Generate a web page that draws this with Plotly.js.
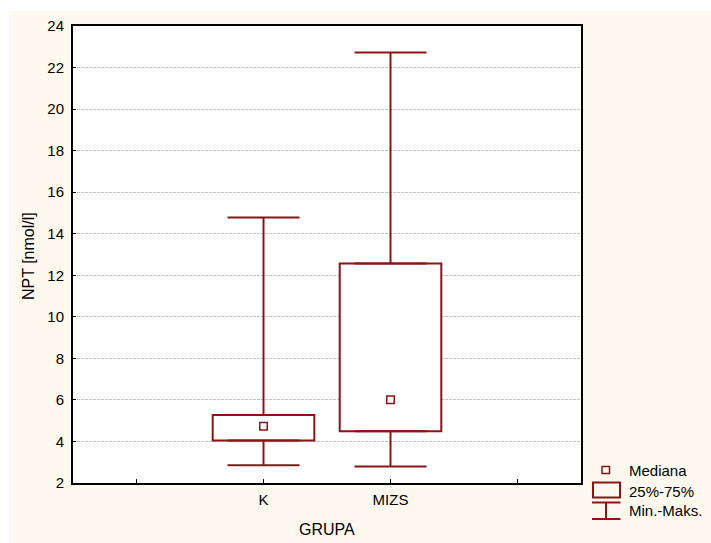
<!DOCTYPE html>
<html>
<head>
<meta charset="utf-8">
<script src="https://cdn.plot.ly/plotly-3.0.1.min.js"></script>
<style>html,body{margin:0;padding:0;background:#fff;}#chart{width:711px;height:543px;}</style>
</head>
<body>
<div id="chart"></div>
<script>
// ---- data ----
var groups = ['K', 'MIZS'];
var groupPos = [0, 1];
var minVals = [2.86, 2.80];
var q1Vals = [4.05, 4.49];
var medianVals = [4.73, 6.01];
var q3Vals = [5.27, 12.57];
var maxVals = [14.78, 22.73];
var xTickVals = [-1, 0, 1, 2];
var xTickText = ['', 'K', 'MIZS', ''];
var legendLabels = ['Mediana', '25%-75%', 'Min.-Maks.'];

// ---- styling ----
var RED = '#8B1414';
var FONT = 'Liberation Sans, Arial, sans-serif';
var W = 711, H = 543;
var M = {l: 73, r: 130, t: 26, b: 60};
var PW = W - M.l - M.r, PH = H - M.t - M.b;
function px(x) { return (x - M.l) / PW; }
function py(y) { return (H - M.b - y) / PH; }

var boxH = q3Vals.map(function (v, i) { return v - q1Vals[i]; });
var zeros = groupPos.map(function () { return 0; });
var lowLen = q1Vals.map(function (v, i) { return v - minVals[i]; });
var upLen = maxVals.map(function (v, i) { return v - q3Vals[i]; });

var traces = [
  {type: 'bar', x: groupPos, y: boxH, base: q1Vals, width: 0.8,
   marker: {color: '#ffffff', line: {color: RED, width: 2}}, hoverinfo: 'skip', showlegend: false},
  {type: 'scatter', mode: 'markers', x: groupPos, y: q1Vals,
   marker: {size: 1, opacity: 0}, showlegend: false, hoverinfo: 'skip',
   error_y: {type: 'data', symmetric: false, array: zeros, arrayminus: lowLen, width: 36, thickness: 2, color: RED}},
  {type: 'scatter', mode: 'markers', x: groupPos, y: q3Vals,
   marker: {size: 1, opacity: 0}, showlegend: false, hoverinfo: 'skip',
   error_y: {type: 'data', symmetric: false, array: upLen, arrayminus: zeros, width: 36, thickness: 2, color: RED}},
  {type: 'scatter', mode: 'markers', x: groupPos, y: medianVals,
   marker: {symbol: 'square-open', size: 7.5, color: RED, line: {width: 1.5, color: RED}}, showlegend: false}
];

var shapes = [
  {type: 'rect', xref: 'paper', yref: 'paper', x0: px(9), x1: px(711), y0: py(543), y1: py(11),
   fillcolor: '#FDF9EE', line: {width: 0}, layer: 'below'},
  {type: 'rect', xref: 'paper', yref: 'paper', x0: 0, x1: 1, y0: 0, y1: 1,
   fillcolor: '#ffffff', line: {width: 0}, layer: 'below'},
  // legend symbols
  {type: 'rect', xref: 'paper', yref: 'paper', x0: px(602), x1: px(609.5), y0: py(473.5), y1: py(466.5),
   line: {color: RED, width: 1.5}, fillcolor: 'rgba(0,0,0,0)'},
  {type: 'rect', xref: 'paper', yref: 'paper', x0: px(593), x1: px(620), y0: py(497.5), y1: py(482.5),
   line: {color: RED, width: 2}, fillcolor: 'rgba(0,0,0,0)'},
  {type: 'line', xref: 'paper', yref: 'paper', x0: px(592), x1: px(620.5), y0: py(502.5), y1: py(502.5), line: {color: RED, width: 2}},
  {type: 'line', xref: 'paper', yref: 'paper', x0: px(606), x1: px(606), y0: py(502.5), y1: py(519), line: {color: RED, width: 2}},
  {type: 'line', xref: 'paper', yref: 'paper', x0: px(592), x1: px(620.5), y0: py(519), y1: py(519), line: {color: RED, width: 2}}
];

var legendY = [470, 491.5, 510.5];
var annotations = legendLabels.map(function (t, i) {
  return {xref: 'paper', yref: 'paper', x: px(627), y: py(legendY[i]), xanchor: 'left', yanchor: 'middle',
          text: t, showarrow: false, font: {family: FONT, size: 15, color: '#000'}};
});
annotations.push({xref: 'paper', yref: 'paper', x: px(29), y: py(256), textangle: -90, xanchor: 'center', yanchor: 'middle',
  text: 'NPT [nmol/l]', showarrow: false, font: {family: FONT, size: 16, color: '#000'}});
annotations.push({xref: 'paper', yref: 'paper', x: px(327), y: py(529), xanchor: 'center', yanchor: 'middle',
  text: 'GRUPA', showarrow: false, font: {family: FONT, size: 16, color: '#000'}});

var layout = {
  width: W, height: H,
  margin: M,
  paper_bgcolor: '#ffffff',
  plot_bgcolor: '#ffffff',
  font: {family: FONT, size: 15, color: '#000'},
  showlegend: false,
  xaxis: {range: [-1.5, 2.5], tickvals: xTickVals, ticktext: xTickText,
          ticks: 'inside', ticklen: 4, tickwidth: 1, tickcolor: '#000',
          showline: true, linecolor: '#000', linewidth: 2, mirror: true,
          showgrid: false, zeroline: false, fixedrange: true, ticklabelstandoff: 2,
          tickfont: {family: FONT, size: 15, color: '#000'}},
  yaxis: {range: [2, 24], dtick: 2, tick0: 2,
          ticks: 'inside', ticklen: 3, tickwidth: 1, tickcolor: '#000',
          showline: true, linecolor: '#000', linewidth: 2, mirror: true,
          showgrid: true, gridcolor: '#C4C4C4', gridwidth: 1, griddash: '3px,1px',
          zeroline: false, fixedrange: true, ticklabelstandoff: 4,
          tickfont: {family: FONT, size: 15, color: '#000'}},
  shapes: shapes,
  annotations: annotations
};

Plotly.newPlot('chart', traces, layout, {displayModeBar: false, staticPlot: true});
</script>
</body>
</html>
